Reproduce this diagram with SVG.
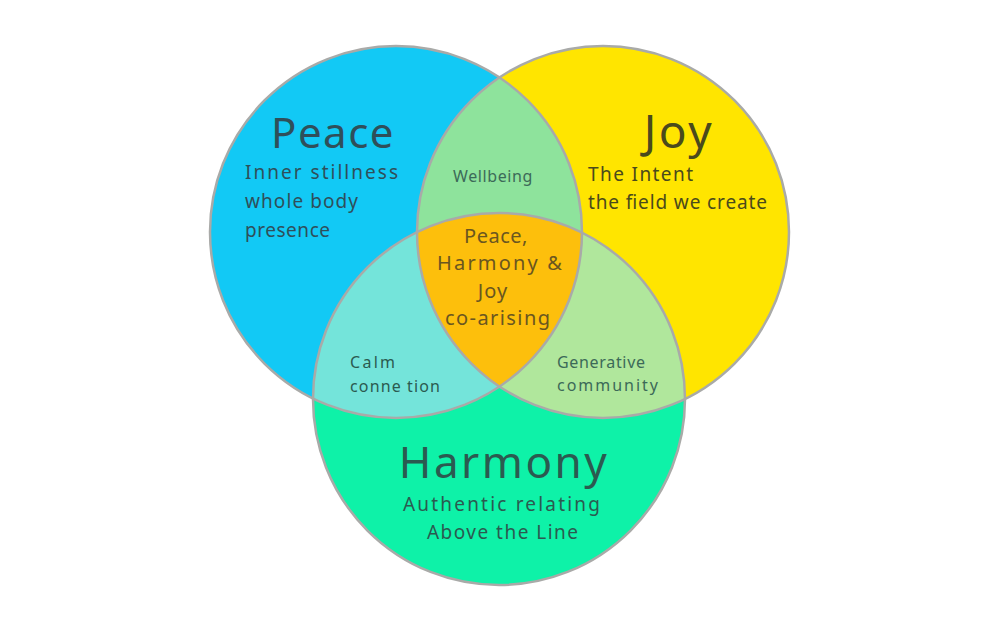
<svg xmlns="http://www.w3.org/2000/svg" width="1000" height="630" viewBox="0 0 1000 630">
  <style>
    text { font-family: "Noto Sans", "DejaVu Sans", sans-serif; }
    .ring { fill: none; stroke: #a9aaa8; stroke-width: 2.5; }
    .sub { font-size: 19px; }
    .mid { font-size: 20px; }
    .small { font-size: 16px; }
    .pc { fill: #2f4f5a; }
    .jc { fill: #4a4a1c; }
    .hc { fill: #2b5a50; }
    .gc { fill: #3c6a58; }
    .oc { fill: #6a5620; }
  </style>
  <defs>
    <clipPath id="clipPeace"><circle cx="396" cy="232" r="186"/></clipPath>
    <clipPath id="clipJoy"><circle cx="603" cy="232" r="186"/></clipPath>
  </defs>
  <rect width="1000" height="630" fill="#ffffff"/>

  <!-- base fills -->
  <circle cx="396" cy="232" r="186" fill="#12c9f5"/>
  <circle cx="603" cy="232" r="186" fill="#ffe500"/>
  <circle cx="499" cy="399" r="186" fill="#0ef2a8"/>

  <!-- overlaps -->
  <g clip-path="url(#clipPeace)">
    <circle cx="603" cy="232" r="186" fill="#8ee39c"/>
    <circle cx="499" cy="399" r="186" fill="#74e4da"/>
  </g>
  <g clip-path="url(#clipJoy)">
    <circle cx="499" cy="399" r="186" fill="#b0e79c"/>
  </g>
  <g clip-path="url(#clipPeace)">
    <g clip-path="url(#clipJoy)">
      <circle cx="499" cy="399" r="186" fill="#fdbf0c"/>
    </g>
  </g>

  <!-- outlines -->
  <circle class="ring" cx="396" cy="232" r="186"/>
  <circle class="ring" cx="603" cy="232" r="186"/>
  <circle class="ring" cx="499" cy="399" r="186"/>

  <g id="peace">
    <text class="pc" x="333" y="148" font-size="42" letter-spacing="1.5" text-anchor="middle">Peace</text>
    <text class="sub pc" x="245" y="179" textLength="153">Inner stillness</text>
    <text class="sub pc" x="245" y="208" textLength="113">whole body</text>
    <text class="sub pc" x="245" y="237" textLength="85">presence</text>
  </g>

  <g id="joy">
    <text class="jc" x="679" y="148" font-size="46" letter-spacing="2.5" text-anchor="middle">Joy</text>
    <text class="sub jc" x="588" y="181" textLength="105">The Intent</text>
    <text class="sub jc" x="588" y="209" textLength="179">the field we create</text>
  </g>

  <g id="harmony">
    <text class="hc" x="504" y="478" font-size="44" letter-spacing="2.5" text-anchor="middle">Harmony</text>
    <text class="sub hc" x="403" y="511" textLength="197">Authentic relating</text>
    <text class="sub hc" x="427" y="539" textLength="151">Above the Line</text>
  </g>

  <g id="wellbeing">
    <text class="small gc" x="493" y="182" text-anchor="middle" letter-spacing="0.6">Wellbeing</text>
  </g>

  <g id="calm-connection">
    <text class="small hc" x="350" y="368" textLength="45">Calm</text>
    <text class="small hc" x="350" y="392" textLength="90">conne tion</text>
  </g>

  <g id="generative-community">
    <text class="small gc" x="557" y="368" textLength="88">Generative</text>
    <text class="small gc" x="557" y="391" textLength="101">community</text>
  </g>

  <g id="center">
    <text class="mid oc" x="496" y="243" text-anchor="middle" letter-spacing="0.5">Peace,</text>
    <text class="mid oc" x="437" y="270" textLength="125">Harmony &amp;</text>
    <text class="mid oc" x="493" y="298" text-anchor="middle" letter-spacing="1">Joy</text>
    <text class="mid oc" x="445" y="325" textLength="105">co-arising</text>
  </g>
</svg>
